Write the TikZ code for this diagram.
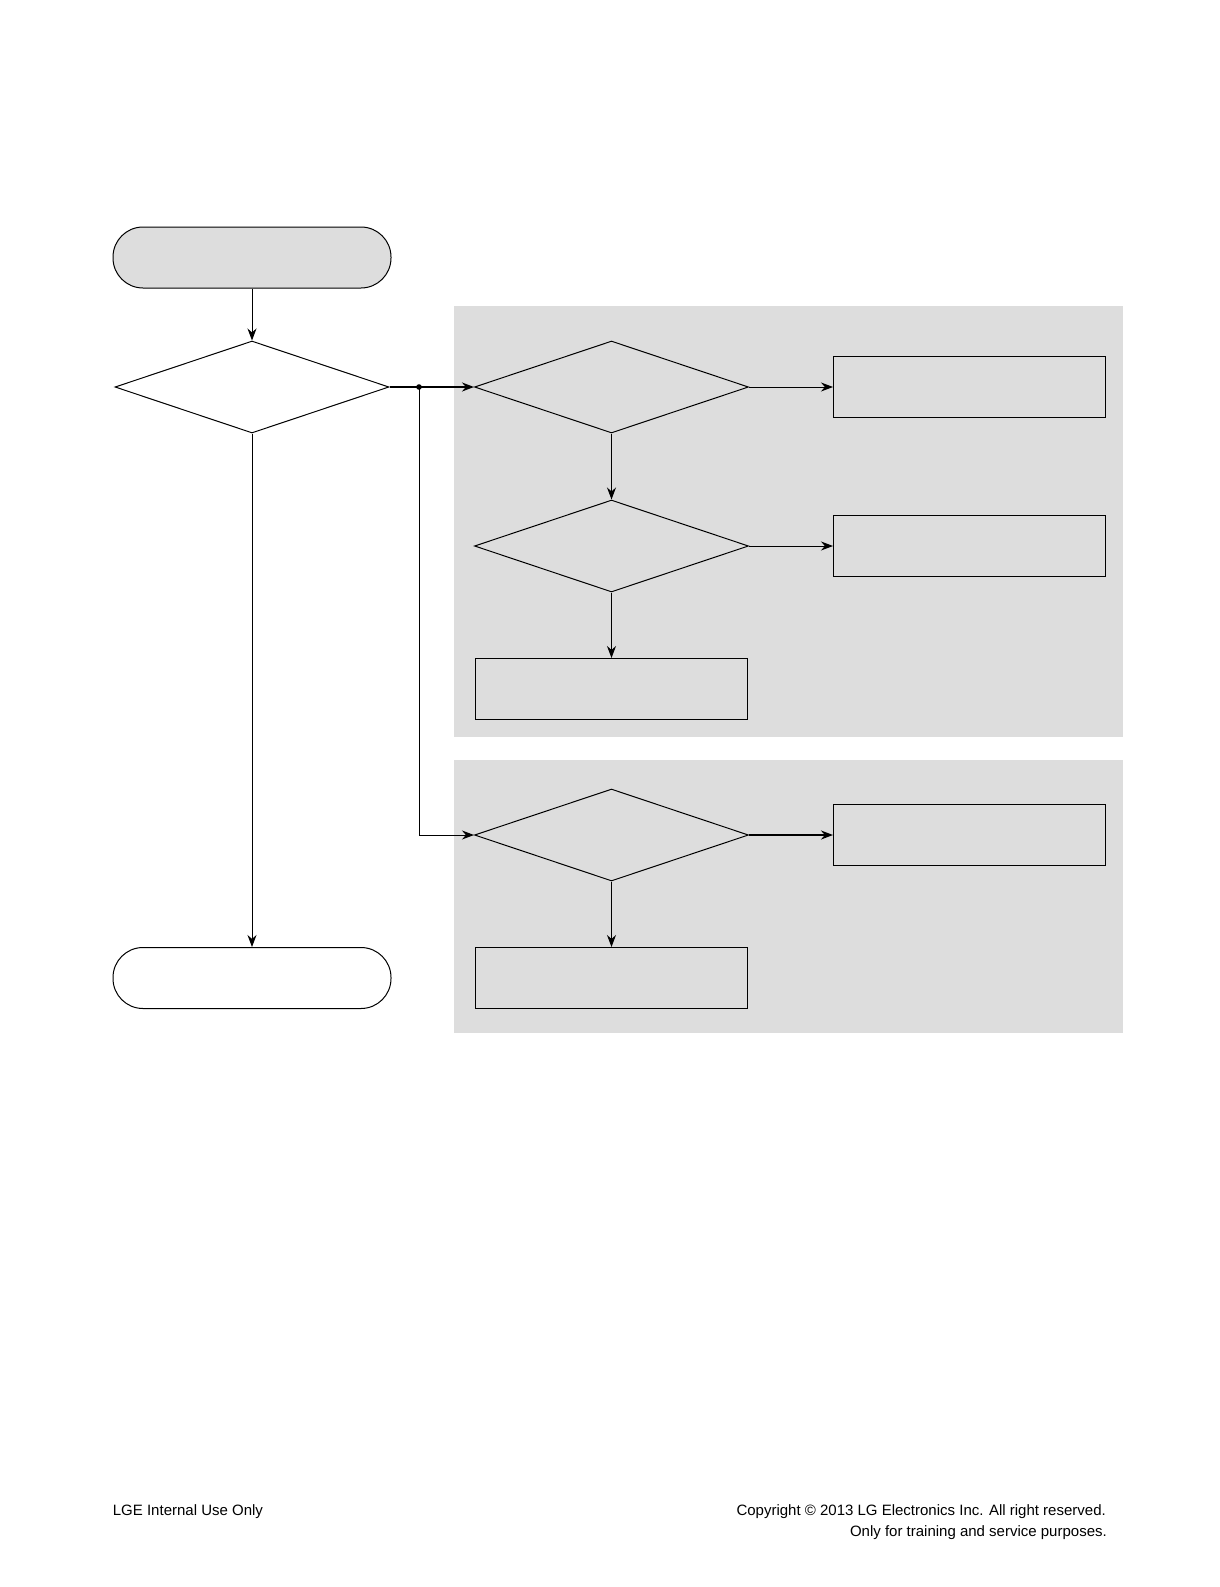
\documentclass[tikz,border=0pt]{standalone}
\usepackage{fontspec}
\setmainfont{Liberation Sans}
\usetikzlibrary{shapes.geometric,arrows.meta}
\definecolor{panelgray}{HTML}{DDDDDD}
\tikzset{
  flow/.style={line width=1pt,-{Stealth[length=12pt,width=9pt]}},
  thickflow/.style={flow,line width=1.8pt},
  decision/.style={draw,line width=1pt,shape=diamond,inner sep=0pt,minimum width=274pt,minimum height=92pt},
  process/.style={draw,line width=1pt,rectangle,inner sep=0pt,minimum width=272pt,minimum height=61pt},
  terminal/.style={draw,line width=1pt,rectangle,rounded corners=30pt,inner sep=0pt,minimum width=278pt,minimum height=61pt},
  footer/.style={font=\fontsize{15}{18}\selectfont,inner sep=0pt}
}
\begin{document}
\begin{tikzpicture}[x=1pt,y=-1pt]
\useasboundingbox (0,0) rectangle (1219,1587);
% panels
\path[fill=panelgray] (454,306) rectangle (1123,737);
\path[fill=panelgray] (454,760) rectangle (1123,1033);
% left column
\node[terminal,fill=panelgray] (start) at (252,257.5) {};
\node[decision,fill=white] (check) at (252,387) {};
\node[terminal,fill=white] (finish) at (252,978) {};
% first panel
\node[decision] (checkA) at (611.5,387) {};
\node[decision] (checkB) at (611.5,546) {};
\node[process] (fixA) at (969.5,387) {};
\node[process] (fixB) at (969.5,546) {};
\node[process] (fixC) at (611.5,689) {};
% second panel
\node[decision] (checkC) at (611.5,835) {};
\node[process] (fixD) at (969.5,835) {};
\node[process] (fixE) at (611.5,978) {};
% connectors
\coordinate (split) at (419,387);
\coordinate (bend) at (419,835);
\draw[flow] (start) -- (check);
\draw[flow] (check) -- (finish);
\draw[line width=1.8pt] (check.east) -- (split);
\draw[thickflow] (split) -- (checkA.west);
\draw[line width=1pt] (split) -- (bend);
\draw[flow] (bend) -- (checkC.west);
\fill (split) circle (2.8pt);
\draw[flow] (checkA.east) -- (fixA.west);
\draw[flow] (checkA.south) -- (checkB.north);
\draw[flow] (checkB.east) -- (fixB.west);
\draw[flow] (checkB.south) -- (fixC.north);
\draw[thickflow] (checkC.east) -- (fixD.west);
\draw[flow] (checkC.south) -- (fixE.north);
% footer
\node[footer,anchor=base west] (internal) at (112.7,1515) {LGE Internal Use Only};
\node[footer,anchor=base east] (copyright) at (1106,1515) {Copyright © 2013 LG Electronics Inc. All right reserved.};
\node[footer,anchor=base east] (purpose) at (1107,1536) {Only for training and service purposes.};
\end{tikzpicture}
\end{document}
